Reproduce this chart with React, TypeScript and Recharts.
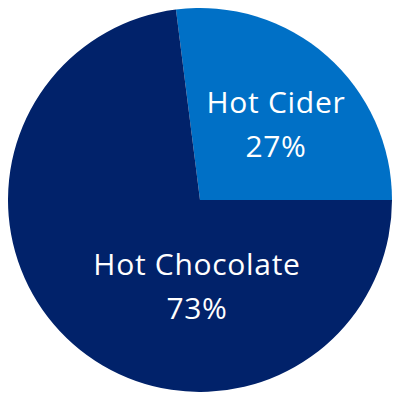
import React from 'react';
import { PieChart, Pie, Cell } from 'recharts';

const drinks = ['Hot Cider', 'Hot Chocolate'];
const shares = [27, 73];
const sliceColors = ['#0070C6', '#01226A'];

// label placement relative to the pie centre (px)
const LABEL_OFFSETS = [
  { dx: 76, dy: -87 },
  { dx: -3, dy: 75 },
];

const chartData = drinks.map((name, i) => ({ name, value: shares[i] }));

const renderLabel = (props: any) => {
  const { cx, cy, index, name, value } = props;
  const off = LABEL_OFFSETS[index];
  const x = cx + off.dx;
  const y = cy + off.dy;
  return (
    <text
      x={x}
      y={y}
      fill="#ffffff"
      textAnchor="middle"
      fontFamily="'Open Sans', sans-serif"
      fontSize={30}
      letterSpacing={0.7}
    >
      <tspan x={x} y={y}>{name}</tspan>
      <tspan x={x} y={y + 44}>{`${value}%`}</tspan>
    </text>
  );
};

const App: React.FC = () => {
  return (
    <div style={{ width: 384, height: 384 }}>
      <PieChart width={384} height={384} margin={{ top: 0, right: 0, bottom: 0, left: 0 }}>
        <Pie
          data={chartData}
          dataKey="value"
          nameKey="name"
          cx={192}
          cy={192}
          outerRadius={192}
          startAngle={0}
          endAngle={360}
          stroke="none"
          labelLine={false}
          label={renderLabel}
          isAnimationActive={false}
        >
          {chartData.map((entry, i) => (
            <Cell key={`cell-${entry.name}`} fill={sliceColors[i]} />
          ))}
        </Pie>
      </PieChart>
    </div>
  );
};

export default App;
